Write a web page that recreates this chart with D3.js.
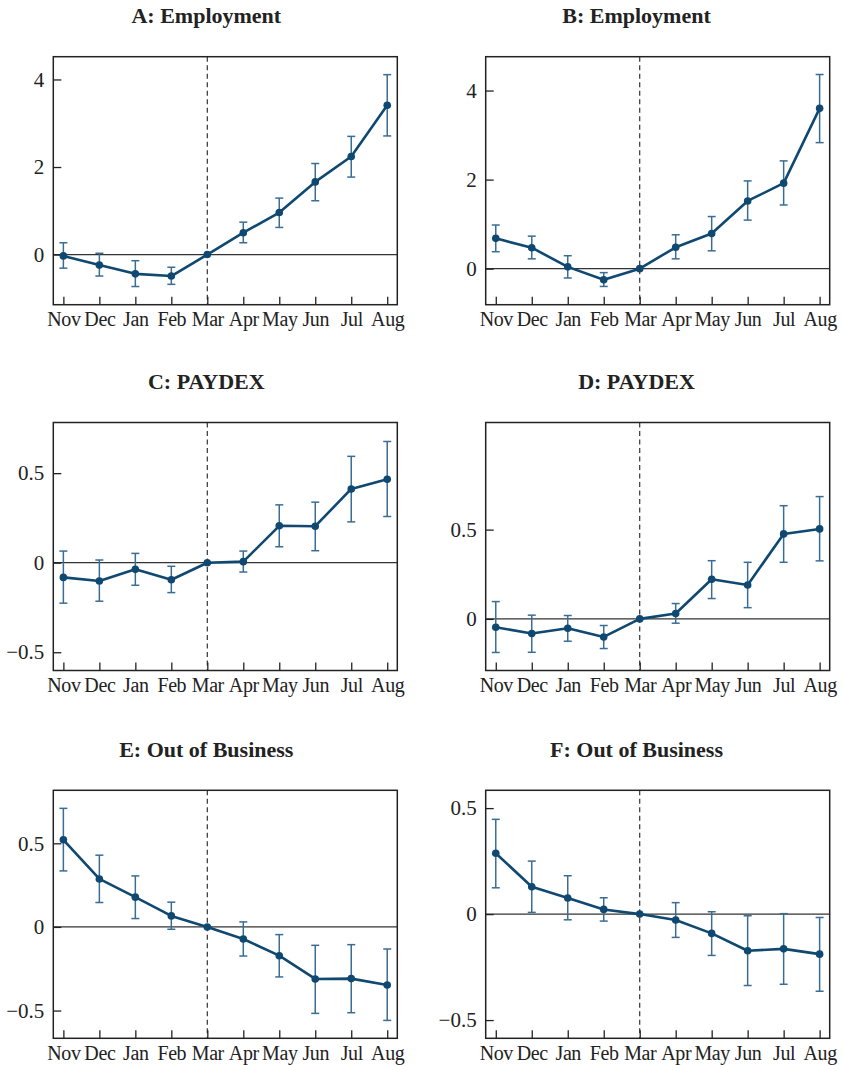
<!DOCTYPE html>
<html>
<head>
<meta charset="utf-8">
<script src="https://cdn.jsdelivr.net/npm/d3@7"></script>
<style>
  html, body { margin: 0; padding: 0; background: #fff; }
  svg { display: block; }
</style>
</head>
<body>
<svg id="chart" width="843" height="1065"></svg>
<script>
// Months on the horizontal axis of every panel
const months = ["Nov", "Dec", "Jan", "Feb", "Mar", "Apr", "May", "Jun", "Jul", "Aug"];

// A: Employment
const empA   = [-0.03, -0.24, -0.44, -0.49, 0, 0.50, 0.96, 1.66, 2.24, 3.41];
const empALo = [-0.31, -0.49, -0.73, -0.68, 0, 0.27, 0.62, 1.23, 1.77, 2.71];
const empAHi = [0.27, 0.03, -0.14, -0.29, 0, 0.74, 1.29, 2.08, 2.70, 4.11];

// B: Employment
const empB   = [0.68, 0.47, 0.04, -0.25, 0, 0.48, 0.79, 1.52, 1.92, 3.60];
const empBLo = [0.38, 0.22, -0.21, -0.40, 0, 0.22, 0.40, 1.09, 1.43, 2.83];
const empBHi = [0.98, 0.73, 0.29, -0.09, 0, 0.76, 1.17, 1.97, 2.42, 4.36];

// C: PAYDEX
const paydexC   = [-0.082, -0.102, -0.037, -0.095, 0, 0.006, 0.206, 0.204, 0.412, 0.466];
const paydexCLo = [-0.226, -0.215, -0.126, -0.167, 0, -0.052, 0.089, 0.067, 0.228, 0.258];
const paydexCHi = [0.065, 0.015, 0.052, -0.020, 0, 0.065, 0.323, 0.338, 0.594, 0.677];

// D: PAYDEX
const paydexD   = [-0.047, -0.082, -0.052, -0.101, 0, 0.030, 0.222, 0.190, 0.476, 0.504];
const paydexDLo = [-0.188, -0.187, -0.125, -0.166, 0, -0.024, 0.114, 0.063, 0.317, 0.325];
const paydexDHi = [0.097, 0.021, 0.019, -0.037, 0, 0.086, 0.326, 0.317, 0.634, 0.685];

// E: Out of Business
const oobE   = [0.521, 0.287, 0.178, 0.066, 0, -0.072, -0.172, -0.311, -0.309, -0.347];
const oobELo = [0.335, 0.146, 0.050, -0.014, 0, -0.174, -0.299, -0.517, -0.513, -0.559];
const oobEHi = [0.709, 0.429, 0.305, 0.148, 0, 0.030, -0.046, -0.110, -0.106, -0.132];

// F: Out of Business
const oobF   = [0.287, 0.129, 0.076, 0.022, 0, -0.028, -0.091, -0.173, -0.164, -0.189];
const oobFLo = [0.124, 0.008, -0.027, -0.033, 0, -0.110, -0.195, -0.337, -0.331, -0.364];
const oobFHi = [0.447, 0.250, 0.181, 0.077, 0, 0.054, 0.011, -0.008, 0.002, -0.016];

// Panel titles and y-axis tick values
const titles = ["A: Employment", "B: Employment", "C: PAYDEX", "D: PAYDEX", "E: Out of Business", "F: Out of Business"];
const yTicks = [[0, 2, 4], [0, 2, 4], [-0.5, 0, 0.5], [0, 0.5], [-0.5, 0, 0.5], [-0.5, 0, 0.5]];

const series = [
  { est: empA, lo: empALo, hi: empAHi },
  { est: empB, lo: empBLo, hi: empBHi },
  { est: paydexC, lo: paydexCLo, hi: paydexCHi },
  { est: paydexD, lo: paydexDLo, hi: paydexDHi },
  { est: oobE, lo: oobELo, hi: oobEHi },
  { est: oobF, lo: oobFLo, hi: oobFHi }
];

// Layout of the 3x2 grid of panels
const yDomains = [[-1.145, 4.52], [-0.81, 4.76], [-0.602, 0.783], [-0.289, 1.10], [-0.666, 0.817], [-0.586, 0.584]];
const colLeft = [53.3, 485.7];
const colTitleX = [206.3, 636.5];
const rowTop = [56.7, 422.5, 790.3];
const plotW = 344, plotH = 248;

const lineColor = "#0f4870";
const barColor = "#3a6d94";
const inkColor = "#222";
const serif = "'Liberation Serif', 'Times New Roman', serif";

const svg = d3.select("#chart");

const fmt = v => (v < 0 ? "\u2212" : "") + (Math.abs(v) === 0 ? "0" : String(Math.abs(v)));

series.forEach((s, i) => {
  const col = i % 2, row = Math.floor(i / 2);
  const left = colLeft[col], top = rowTop[row];

  const g = svg.append("g").attr("transform", `translate(${left},${top})`);

  const x = d3.scalePoint().domain(months).range([0, plotW]).padding(0.28);
  const y = d3.scaleLinear().domain(yDomains[i]).range([plotH, 0]);

  // Title
  svg.append("text")
    .attr("x", colTitleX[col])
    .attr("y", top - 33.5)
    .attr("text-anchor", "middle")
    .attr("font-family", serif)
    .attr("font-weight", "bold")
    .attr("font-size", 22)
    .attr("fill", inkColor)
    .text(titles[i]);

  // Zero reference line
  g.append("line")
    .attr("x1", 0).attr("x2", plotW)
    .attr("y1", y(0)).attr("y2", y(0))
    .attr("stroke", "#333").attr("stroke-width", 1.2);

  // Vertical dashed line at March
  g.append("line")
    .attr("x1", x("Mar")).attr("x2", x("Mar"))
    .attr("y1", 0).attr("y2", plotH)
    .attr("stroke", "#333").attr("stroke-width", 1.2)
    .attr("stroke-dasharray", "5,3.5");

  // Axes with inward ticks
  const xAxis = d3.axisBottom(x).tickSize(-8).tickPadding(7.5);
  const gx = g.append("g").attr("transform", `translate(0,${plotH})`).call(xAxis);
  gx.select(".domain").remove();
  gx.selectAll(".tick line").attr("stroke", inkColor).attr("stroke-width", 1.3);
  gx.selectAll(".tick text")
    .attr("font-family", serif).attr("font-size", 20).attr("fill", inkColor)
    .attr("letter-spacing", "-0.4");

  const yAxis = d3.axisLeft(y).tickValues(yTicks[i]).tickFormat(fmt).tickSize(-8).tickPadding(9);
  const gy = g.append("g").call(yAxis);
  gy.select(".domain").remove();
  gy.selectAll(".tick line").attr("stroke", inkColor).attr("stroke-width", 1.3);
  gy.selectAll(".tick text")
    .attr("font-family", serif).attr("font-size", 21).attr("fill", inkColor);

  const pts = months.map((m, k) => ({ m, v: s.est[k], lo: s.lo[k], hi: s.hi[k] }));

  // Confidence-interval bars
  const eb = g.append("g").selectAll("g").data(pts.filter(d => d.lo !== d.hi)).join("g")
    .attr("stroke", barColor).attr("stroke-width", 1.5);
  eb.append("line")
    .attr("x1", d => x(d.m)).attr("x2", d => x(d.m))
    .attr("y1", d => y(d.lo)).attr("y2", d => y(d.hi));
  eb.append("line")
    .attr("x1", d => x(d.m) - 4).attr("x2", d => x(d.m) + 4)
    .attr("y1", d => y(d.lo)).attr("y2", d => y(d.lo));
  eb.append("line")
    .attr("x1", d => x(d.m) - 4).attr("x2", d => x(d.m) + 4)
    .attr("y1", d => y(d.hi)).attr("y2", d => y(d.hi));

  // Point-estimate line and markers
  g.append("path")
    .datum(pts)
    .attr("fill", "none")
    .attr("stroke", lineColor)
    .attr("stroke-width", 2.6)
    .attr("stroke-linejoin", "round")
    .attr("d", d3.line().x(d => x(d.m)).y(d => y(d.v)));

  g.append("g").selectAll("circle").data(pts).join("circle")
    .attr("cx", d => x(d.m)).attr("cy", d => y(d.v))
    .attr("r", 3.8).attr("fill", lineColor);

  // Frame
  g.append("rect")
    .attr("x", 0).attr("y", 0).attr("width", plotW).attr("height", plotH)
    .attr("fill", "none").attr("stroke", inkColor).attr("stroke-width", 1.5);
});
</script>
</body>
</html>
